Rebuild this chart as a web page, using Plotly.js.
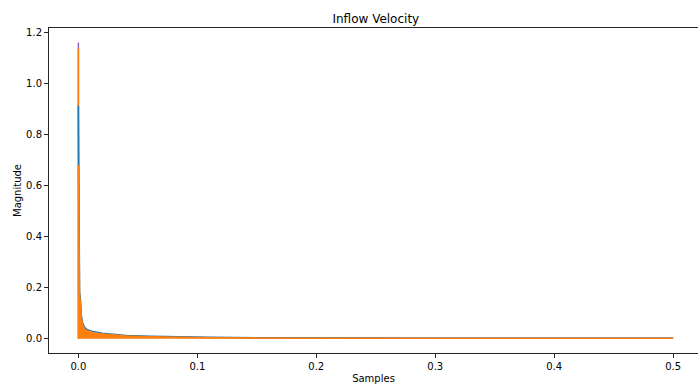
<!DOCTYPE html>
<html>
<head>
<meta charset="utf-8">
<script src="https://cdn.plot.ly/plotly-3.0.1.min.js"></script>
<style>html,body{margin:0;padding:0;background:#fff;}#chart{width:698px;height:386px;}</style>
</head>
<body>
<div id="chart"></div>
<script>
// Frequency samples (x) and spectrum envelopes
const freq = [0, 0.0005, 0.001, 0.0017, 0.0025, 0.0035, 0.005, 0.0075, 0.0125, 0.02, 0.03, 0.04, 0.06, 0.08, 0.11, 0.15, 0.2, 0.3, 0.4, 0.5];
const blueMag = [0.914, 0.23, 0.185, 0.155, 0.092, 0.064, 0.046, 0.035, 0.028, 0.022, 0.017, 0.013, 0.0095, 0.0075, 0.0055, 0.004, 0.003, 0.0025, 0.0025, 0.0025];
const orangeMag = [0.681, 0.21, 0.17, 0.14, 0.082, 0.056, 0.039, 0.03, 0.024, 0.019, 0.014, 0.011, 0.008, 0.006, 0.0042, 0.003, 0.002, 0.0015, 0.0015, 0.0015];
// DC-bin peaks of the other channels
const dcFreq = [0, 0];
const purpleDC = [0, 1.163];
const orangeDC = [0, 1.139];

const xTicks = [0, 0.1, 0.2, 0.3, 0.4, 0.5];
const yTicks = [0, 0.2, 0.4, 0.6, 0.8, 1.0, 1.2];

const C0 = '#1f77b4', C1 = '#ff7f0e', C4 = '#9467bd';

const traces = [
  {x: dcFreq, y: purpleDC, mode: 'lines', line: {color: C4, width: 1.5}, hoverinfo: 'skip'},
  {x: dcFreq, y: orangeDC, mode: 'lines', line: {color: C1, width: 1.5}, hoverinfo: 'skip'},
  {x: freq, y: blueMag, mode: 'lines', line: {color: C0, width: 1.5}},
  {x: freq, y: orangeMag, mode: 'lines', line: {color: C1, width: 1.5}, fill: 'tozeroy', fillcolor: C1}
];

const axisCommon = {
  showline: true, mirror: true, linecolor: '#262626', linewidth: 1,
  ticks: 'outside', ticklen: 4, tickwidth: 1, tickcolor: '#262626',
  showgrid: false, zeroline: false,
  tickfont: {family: 'DejaVu Sans', size: 10, color: '#000'}
};

const layout = {
  width: 698, height: 386,
  margin: {l: 49.3, r: 0, t: 27.7, b: 33, pad: 0},
  paper_bgcolor: '#fff', plot_bgcolor: '#fff',
  showlegend: false,
  title: {text: 'Inflow Velocity', font: {family: 'DejaVu Sans', size: 12, color: '#000'},
          xref: 'paper', x: 0.5036, xanchor: 'center', yref: 'container', y: 1 - 19/386, yanchor: 'middle'},
  xaxis: Object.assign({}, axisCommon, {
    range: [-0.0247, 0.5209], tickvals: xTicks, tickformat: '.1f',
    title: {text: 'Samples', font: {family: 'DejaVu Sans', size: 10, color: '#000'}, standoff: 3}
  }),
  yaxis: Object.assign({}, axisCommon, {
    range: [-0.056, 1.2196], tickvals: yTicks, tickformat: '.1f',
    title: {text: 'Magnitude', font: {family: 'DejaVu Sans', size: 10, color: '#000'}, standoff: 2}
  })
};

Plotly.newPlot('chart', traces, layout, {staticPlot: true, displayModeBar: false});
</script>
</body>
</html>
